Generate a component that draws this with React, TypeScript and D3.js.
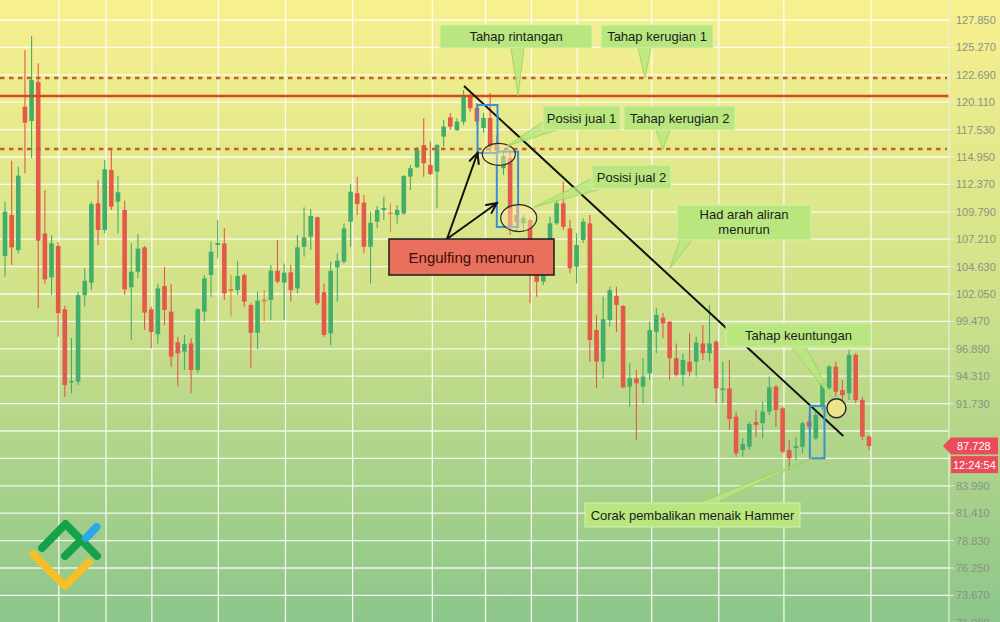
import React from "react";
import * as d3 from "d3";

// ---------- data ----------
const priceTicks = [127.85, 125.27, 122.69, 120.11, 117.53, 114.95, 112.37, 109.79, 107.21, 104.63, 102.05, 99.47, 96.89, 94.31, 91.73, 89.15, 86.57, 83.99, 81.41, 78.83, 76.25, 73.67, 71.09];

const opens = [105.63,109.49,106.19,119.69,118.34,122.03,107.76,103.62,106.57,100.61,93.72,93.80,101.95,103.11,110.59,108.07,113.73,110.74,109.96,102.68,104.15,106.44,100.61,98.27,102.80,100.39,97.50,96.62,97.39,94.90,100.39,103.84,106.66,106.82,102.51,102.42,103.84,101.02,98.40,101.52,101.49,104.24,103.11,104.09,102.58,106.50,107.44,109.27,102.21,98.35,104.56,105.09,108.86,111.53,110.65,106.50,108.86,109.96,109.72,109.49,109.65,113.10,113.98,116.08,114.20,113.57,116.87,118.69,117.49,118.28,120.62,119.57,117.69,118.63,116.23,113.89,114.85,109.49,108.70,109.02,103.84,103.21,107.13,108.70,110.59,108.23,104.62,107.13,108.70,98.66,95.68,99.61,101.86,100.92,93.33,94.11,93.33,94.58,98.48,99.82,99.45,96.00,94.43,95.68,95.68,97.39,96.47,97.56,93.00,93.17,90.50,87.36,87.67,90.00,89.88,90.97,93.33,91.29,87.36,87.54,87.67,90.03,88.46,91.60,93.17,95.21,93.00,92.70,96.32,92.07,88.62];
const highs = [110.74,114.60,114.04,125.02,126.34,123.77,111.84,107.60,106.92,100.92,97.91,102.26,104.47,110.74,112.78,114.67,115.77,113.16,110.83,106.82,107.69,106.57,100.86,103.05,104.62,102.99,98.03,98.19,97.88,100.71,103.84,106.98,109.02,108.23,103.84,105.18,104.00,101.18,102.26,102.42,104.78,107.13,104.93,104.78,107.60,110.21,110.05,109.33,103.05,105.09,105.88,108.70,112.41,113.10,111.37,109.80,110.33,111.21,110.59,110.43,113.26,114.20,115.92,118.60,116.40,116.20,118.44,119.07,118.60,121.25,120.94,120.04,119.10,120.97,116.98,115.61,115.61,110.43,109.49,109.18,104.47,105.25,109.33,110.90,112.63,109.02,107.76,109.18,109.49,100.08,101.79,102.73,102.73,101.02,95.52,94.90,96.00,99.45,100.71,100.25,99.50,97.39,96.47,98.35,98.03,99.13,101.02,97.72,95.68,95.84,90.97,88.46,90.03,91.13,91.91,94.27,93.48,91.44,88.30,88.61,90.03,90.50,91.13,93.95,95.37,95.68,93.95,96.80,96.50,92.38,88.77];
const lows = [103.68,104.78,105.88,113.42,114.83,100.71,103.05,101.95,98.03,92.38,92.70,93.48,100.86,102.42,106.66,107.76,109.96,107.76,101.95,97.72,103.52,98.66,96.94,97.39,99.13,95.21,93.33,94.90,92.70,94.58,99.45,101.79,105.41,101.49,99.92,101.95,100.86,95.06,96.84,99.45,99.61,103.05,99.61,101.33,102.11,105.56,106.19,101.02,98.03,97.25,101.33,104.93,106.50,109.49,105.88,103.05,108.23,109.02,107.91,108.70,109.49,111.84,113.89,113.10,113.26,110.12,115.92,117.49,117.40,117.96,119.22,117.96,117.22,115.42,114.65,113.26,107.60,107.88,107.88,101.18,101.79,102.89,106.82,108.54,108.07,104.00,103.05,106.85,95.68,93.17,94.11,98.97,98.48,93.17,91.44,88.30,91.76,93.95,96.47,97.88,93.95,94.27,93.33,94.27,94.27,95.84,95.68,91.76,91.76,89.24,86.73,86.73,87.36,88.62,88.46,90.66,89.56,87.05,85.48,86.42,87.05,89.24,88.30,91.13,93.00,92.38,91.76,92.07,91.76,88.30,87.36];
const closes = [109.80,106.44,113.19,118.18,122.19,107.07,103.43,106.82,100.25,93.48,93.86,101.95,103.30,110.52,108.07,113.79,110.27,111.63,102.49,104.15,106.32,100.30,98.48,102.58,100.55,96.15,96.47,97.35,94.90,100.61,103.52,106.03,106.85,102.11,102.32,103.74,101.33,98.40,101.42,101.34,104.24,103.21,104.05,102.42,106.44,107.38,109.39,101.18,98.19,104.24,105.18,108.23,111.68,110.52,106.50,108.76,109.96,110.15,109.58,109.96,113.16,113.89,115.61,114.36,113.35,116.08,117.81,117.81,118.28,120.62,119.54,118.28,118.63,115.89,115.57,115.04,108.36,108.83,109.21,104.30,103.21,103.94,108.70,110.59,108.38,104.47,106.66,108.86,97.72,95.68,99.67,102.42,101.02,93.26,94.11,93.64,94.27,98.66,100.08,99.29,96.00,94.43,95.84,94.74,97.47,96.47,97.39,93.17,93.15,90.28,87.05,87.93,89.81,89.72,90.97,93.26,91.13,87.20,86.58,87.73,89.88,89.56,90.66,93.64,95.21,92.85,92.52,96.32,92.07,88.62,87.73];

const lastPrice = 87.728;
const lastTime = "12:24:54";

// horizontal levels
const resistanceLevel = 120.69;
const stopLevels = [122.39, 115.7];

// vertical session grid (candle index positions)
const vGridIdx = [8.1, 15.2, 22.1, 32.1, 42.2, 52.3, 64.3, 72.3, 79.2, 86.1, 97.3, 107.4, 117.2, 130.3];

// trend line (index, price)
const trendStart = { i: 69.06, p: 121.63 };
const trendEnd = { i: 126.13, p: 88.68 };

// highlight rectangles (index range, price range)
const patternRects = [
  { i0: 71.1, i1: 74.1, p0: 119.85, p1: 115.33 },
  { i0: 74.0, i1: 77.2, p0: 115.45, p1: 108.36 },
  { i0: 121.1, i1: 123.3, p0: 91.5, p1: 86.58 },
];

// entry ellipses
const entryEllipses = [
  { i: 74.3, p: 115.2, rx: 16.5, ry: 11 },
  { i: 77.3, p: 109.2, rx: 18, ry: 13.5 },
];
const profitPoint = { i: 125.1, p: 91.29 };

export default function App() {
  const W = 1000;
  const H = 622;
  const axisX = 949;
  const x = d3.scaleLinear().domain([0, 130]).range([5, 869]);
  const y = d3.scaleLinear().domain([127.85, 73.67]).range([20, 595.4]);
  const fmt = d3.format(".3f");
  const candles = d3.range(opens.length).map((i) => ({
    i,
    o: opens[i],
    h: highs[i],
    l: lows[i],
    c: closes[i],
  }));
  const bodyW = 4.6;
  const green = "#43ae6b";
  const red = "#e3594a";
  const orange = "#de8838";
  const colorOf = (d: any) =>
    d.c >= d.o ? green : d.o - d.c < 0.22 ? orange : red;

  const calloutFill = "#b9e67f";
  const calloutStroke = "#d7f0ae";

  const yRes = y(resistanceLevel);
  const yStop1 = y(stopLevels[0]);
  const yStop2 = y(stopLevels[1]);

  const callouts = [
    { lines: ["Tahap rintangan"], bx: 440, by: 25, bw: 152, bh: 23, ptr: [[511, 48], [524, 48], [518, yRes]] },
    { lines: ["Tahap kerugian 1"], bx: 601, by: 25, bw: 112, bh: 23, ptr: [[638, 48], [651, 48], [645, yStop1]] },
    { lines: ["Posisi jual 1"], bx: 543, by: 106, bw: 77, bh: 24, ptr: [[544, 121], [557, 130], [507, 146]] },
    { lines: ["Tahap kerugian 2"], bx: 624, by: 106, bw: 111, bh: 24, ptr: [[656, 130], [670, 130], [663, yStop2]] },
    { lines: ["Posisi jual 2"], bx: 592, by: 165, bw: 79, bh: 24, ptr: [[593, 178], [601, 189], [534, 207]] },
    { lines: ["Had arah aliran", "menurun"], bx: 677, by: 205, bw: 134, bh: 35, ptr: [[680, 240], [692, 240], [670, 268]] },
    { lines: ["Tahap keuntungan"], bx: 726, by: 323, bw: 145, bh: 24, ptr: [[791, 347], [806, 347], [834, 401]] },
    { lines: ["Corak pembalikan menaik Hammer"], bx: 585, by: 503, bw: 215, bh: 24, ptr: [[698, 503], [716, 503], [812, 458]] },
  ];

  // arrows from engulfing label
  const arrowFrom = [447, 239];
  const arrowTips = [
    [x(patternRects[0].i0), y(patternRects[0].p1)],
    [x(patternRects[1].i0), y(110.6)],
  ];
  const arrowHead = (fx: number, fy: number, tx: number, ty: number) => {
    const a = Math.atan2(ty - fy, tx - fx);
    const len = 11;
    const s = 0.45;
    return `M${tx - len * Math.cos(a - s)},${ty - len * Math.sin(a - s)} L${tx},${ty} L${tx - len * Math.cos(a + s)},${ty - len * Math.sin(a + s)}`;
  };

  const yLast = y(lastPrice);
  const visibleTicks = priceTicks.filter((t) => Math.abs(y(t) - yLast) > 16);

  return (
    <svg
      width={W}
      height={H}
      style={{ position: "absolute", left: 0, top: 0, fontFamily: '"Liberation Sans", Arial, sans-serif' }}
    >
      <defs>
        <linearGradient id="bg" x1="0" y1="0" x2="0" y2="1">
          <stop offset="0" stopColor="#f7f08e" />
          <stop offset="0.45" stopColor="#d3e38a" />
          <stop offset="1" stopColor="#8cc68b" />
        </linearGradient>
      </defs>
      <rect x={0} y={0} width={W} height={H} fill="url(#bg)" />

      {/* grid */}
      <g stroke="#ffffff" strokeOpacity={0.85} strokeWidth={1.3}>
        {priceTicks.map((t) => (
          <line key={"h" + t} x1={0} x2={axisX} y1={y(t)} y2={y(t)} />
        ))}
        {vGridIdx.map((v) => (
          <line key={"v" + v} x1={x(v)} x2={x(v)} y1={0} y2={H} />
        ))}
      </g>

      {/* candles */}
      <g>
        {candles.map((d) => {
          const cx = x(d.i);
          const col = colorOf(d);
          const top = y(Math.max(d.o, d.c));
          const bot = y(Math.min(d.o, d.c));
          return (
            <g key={d.i}>
              <line x1={cx} x2={cx} y1={y(d.h)} y2={y(d.l)} stroke={col} strokeWidth={1.1} />
              <rect x={cx - bodyW / 2} y={top} width={bodyW} height={Math.max(1.5, bot - top)} fill={col} />
            </g>
          );
        })}
      </g>

      {/* horizontal levels */}
      <g>
        {stopLevels.map((p) => (
          <line key={p} x1={0} x2={axisX - 2} y1={y(p)} y2={y(p)} stroke="#c4602c" strokeWidth={2.4} strokeDasharray="4.5,4.5" />
        ))}
        <line x1={0} x2={axisX} y1={yRes} y2={yRes} stroke="#d8452a" strokeWidth={2.4} />
      </g>

      {/* trend line */}
      <line
        x1={x(trendStart.i)}
        y1={y(trendStart.p)}
        x2={x(trendEnd.i)}
        y2={y(trendEnd.p)}
        stroke="#111"
        strokeWidth={2}
      />

      {/* pattern rectangles */}
      {patternRects.map((r, k) => (
        <rect
          key={k}
          x={x(r.i0)}
          y={y(r.p0)}
          width={x(r.i1) - x(r.i0)}
          height={y(r.p1) - y(r.p0)}
          fill="none"
          stroke="#3a8fd0"
          strokeWidth={2}
        />
      ))}

      {/* ellipses */}
      {entryEllipses.map((e, k) => (
        <ellipse
          key={k}
          cx={x(e.i)}
          cy={y(e.p)}
          rx={e.rx}
          ry={e.ry}
          fill="#f6e6a0"
          fillOpacity={0.5}
          stroke="#2a2a1a"
          strokeWidth={1.2}
        />
      ))}

      {/* arrows */}
      <g stroke="#111" strokeWidth={2} fill="none" strokeLinecap="round">
        {arrowTips.map((t, k) => (
          <g key={k}>
            <line x1={arrowFrom[0]} y1={arrowFrom[1]} x2={t[0]} y2={t[1]} />
            <path d={arrowHead(arrowFrom[0], arrowFrom[1], t[0], t[1])} />
          </g>
        ))}
      </g>

      {/* engulfing label */}
      <rect x={389} y={239} width={165} height={36} fill="#e9705c" stroke="#1a1a1a" strokeWidth={1.5} />
      <text x={471.5} y={262.5} textAnchor="middle" fontSize={15} fill="#3a0e08">
        Engulfing menurun
      </text>

      {/* callouts */}
      {callouts.map((c, k) => (
        <g key={k}>
          <polygon
            points={c.ptr.map((p) => p.join(",")).join(" ")}
            fill={calloutFill}
            fillOpacity={0.8}
            stroke="#93d260"
            strokeWidth={0.8}
          />
          <rect x={c.bx} y={c.by} width={c.bw} height={c.bh} fill={calloutFill} stroke={calloutStroke} strokeWidth={1} />
          {c.lines.map((ln, j) => (
            <text
              key={j}
              x={c.bx + c.bw / 2}
              y={c.lines.length === 1 ? c.by + c.bh / 2 + 4.5 : c.by + 14 + j * 15}
              textAnchor="middle"
              fontSize={13}
              fill="#1c1c1c"
            >
              {ln}
            </text>
          ))}
        </g>
      ))}

      {/* profit circle */}
      <circle cx={x(profitPoint.i)} cy={y(profitPoint.p)} r={9.5} fill="#ece48a" stroke="#2a2a2a" strokeWidth={1.5} />

      {/* price axis */}
      <line x1={axisX} x2={axisX} y1={0} y2={H} stroke="#e9eedd" strokeWidth={1.2} />
      <g fontSize={11} fill="#8b9286">
        {visibleTicks.map((t) => (
          <g key={"t" + t}>
            <line x1={axisX} x2={axisX + 5} y1={y(t)} y2={y(t)} stroke="#e9eedd" strokeWidth={1} />
            <text x={956} y={y(t) + 4}>
              {fmt(t)}
            </text>
          </g>
        ))}
      </g>

      {/* last price marker */}
      <polygon
        points={`943,${yLast} 951,${yLast - 8.5} 998,${yLast - 8.5} 998,${yLast + 8.5} 951,${yLast + 8.5}`}
        fill="#ec4b5b"
      />
      <text x={957} y={yLast + 4} fontSize={11} fill="#ffffff">
        {fmt(lastPrice)}
      </text>
      <rect x={951} y={yLast + 10} width={47} height={17} fill="#ec4b5b" />
      <text x={953} y={yLast + 22.5} fontSize={11} fill="#ffffff">
        {lastTime}
      </text>

      {/* logo */}
      <g fill="none" strokeWidth={8} strokeLinecap="round" strokeLinejoin="round">
        <path d="M33,554 L65,586 L89,562" stroke="#f5bf2a" />
        <path d="M42,548 L65.5,524 L97,556" stroke="#15a24b" />
        <path d="M65,556 L80,541" stroke="#15a24b" />
        <path d="M86,538 L96.5,527" stroke="#2aa8ea" />
      </g>
    </svg>
  );
}
